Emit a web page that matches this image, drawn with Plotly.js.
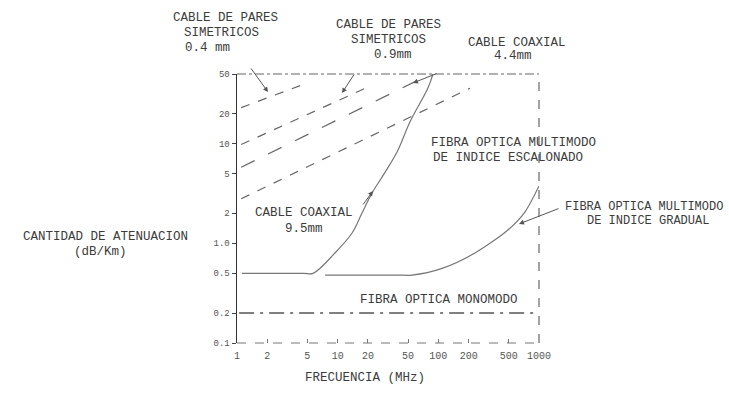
<!DOCTYPE html>
<html>
<head>
<meta charset="utf-8">
<script src="https://cdn.plot.ly/plotly-3.0.1.min.js"></script>
<style>
  html, body { margin: 0; padding: 0; background: #ffffff; }
  #chart { width: 729px; height: 396px; }
</style>
</head>
<body>
<div id="chart"></div>
<script>
// ---- data ----
const freqTicks = [1, 2, 5, 10, 20, 50, 100, 200, 500, 1000];
const freqTickText = ["1", "2", "5", "10", "20", "50", "100", "200", "500", "1000"];
const attTicks = [0.1, 0.2, 0.5, 1, 2, 5, 10, 20, 50];
const attTickText = ["0.1", "0.2", "0.5", "1.0", "2", "5", "10", "20", "50"];

const pares04F = [1.1, 5.1];
const pares04A = [23, 41];
const pares09F = [1.1, 20];
const pares09A = [9.8, 37];
const coax44F = [1.1, 74];
const coax44A = [5.8, 47];
const coax95F = [1.1, 206];
const coax95A = [2.8, 36];
const escalonadoF = [1.12, 4.6, 5.7, 9.4, 13.9, 17.4, 21.9, 29, 39.7, 52.2, 78.8, 88.4];
const escalonadoA = [0.5, 0.5, 0.5, 0.8, 1.27, 2.0, 3.19, 5.0, 8.6, 16.5, 36.1, 50];
const gradualF = [7.5, 40, 54.7, 109, 231, 491, 724, 1000];
const gradualA = [0.48, 0.48, 0.48, 0.56, 0.8, 1.36, 2.06, 3.76];
const monomodoF = [1.05, 1000];
const monomodoA = [0.2, 0.2];

// ---- styling ----
const FONT = "Liberation Mono, DejaVu Sans Mono, monospace";
const TXT = "#3c3c3c";
const LINE = "#666666";

// plot area in pixels (for placing free labels)
const L = 237, R = 539, T = 74, B = 343;
const px = v => (v - L) / (R - L);
const py = v => (B - v) / (B - T);

function seg(x, y, dash, color, width, shape, smooth) {
  return {
    type: "scatter", mode: "lines", x: x, y: y,
    line: { color: color || LINE, width: width || 1.2, dash: dash || "solid",
            shape: shape || "linear", smoothing: smooth || 0.5 },
    hoverinfo: "skip", showlegend: false
  };
}

const traces = [
  seg(pares04F, pares04A, "dash"),
  seg(pares09F, pares09A, "dash"),
  seg(coax44F, coax44A, "longdash"),
  seg(coax95F, coax95A, "dash"),
  seg(escalonadoF, escalonadoA, "solid", "#777777", 1.2, "spline", 1.0),
  seg(gradualF, gradualA, "solid", "#777777", 1.2, "spline", 0.8),
  seg(monomodoF, monomodoA, "longdashdot", "#555555", 1.3)
];

function label(text, x, y, anchor, size) {
  return {
    xref: "paper", yref: "paper", x: px(x), y: py(y),
    xanchor: anchor || "center", yanchor: "middle",
    text: text, showarrow: false,
    font: { family: FONT, size: size || 12.5, color: TXT }
  };
}
function arrow(hx, hy, tx, ty) {
  return {
    xref: "paper", yref: "paper", x: px(hx), y: py(hy),
    ax: tx - hx, ay: ty - hy, axref: "pixel", ayref: "pixel",
    text: "", showarrow: true, arrowhead: 2, arrowsize: 1, arrowwidth: 1,
    arrowcolor: "#555555"
  };
}

const annotations = [
  label("CABLE DE PARES", 225, 18),
  label("SIMETRICOS", 221, 33),
  label("0.4 mm", 207, 48),
  label("CABLE DE PARES", 388, 25),
  label("SIMETRICOS", 388, 40),
  label("0.9mm", 393, 55),
  label("CABLE COAXIAL", 517, 43),
  label("4.4mm", 513, 56),
  label("FIBRA OPTICA MULTIMODO", 513, 143),
  label("DE INDICE ESCALONADO", 508, 158),
  label("CABLE COAXIAL", 304, 213),
  label("9.5mm", 304, 229),
  label("FIBRA OPTICA MULTIMODO", 563, 207, "left", 12),
  label("DE INDICE GRADUAL", 585, 221, "left", 12),
  label("CANTIDAD DE ATENUACION", 105, 237),
  label("(dB/Km)", 100, 252),
  label("FIBRA OPTICA MONOMODO", 439, 300),
  label("FRECUENCIA (MHz)", 365, 378),
  arrow(268, 92, 250, 67),
  arrow(342, 93, 355, 73),
  arrow(413, 83, 438, 73),
  arrow(373, 191, 362, 206),
  arrow(519, 224, 560, 208)
];

const shapes = [
  { type: "line", xref: "paper", yref: "paper", x0: 0, x1: 1, y0: 1, y1: 1,
    line: { color: "#666666", width: 1.2, dash: "dashdot" } },
  { type: "line", xref: "paper", yref: "paper", x0: 1, x1: 1, y0: 0, y1: 1,
    line: { color: "#666666", width: 1.2, dash: "dash" } },
  { type: "line", xref: "paper", yref: "paper", x0: 0, x1: 1, y0: 0, y1: 0,
    line: { color: "#777777", width: 1, dash: "dash" } }
];

const layout = {
  width: 729, height: 396,
  margin: { l: L, r: 729 - R, t: T, b: 396 - B, pad: 0 },
  paper_bgcolor: "#ffffff", plot_bgcolor: "#ffffff",
  showlegend: false,
  xaxis: {
    type: "log", range: [0, 3],
    tickmode: "array", tickvals: freqTicks, ticktext: freqTickText,
    showgrid: false, zeroline: false, showline: false,
    ticks: "inside", ticklen: 4, tickcolor: "#777777",
    ticklabelstandoff: 5,
    tickfont: { family: FONT, size: 10, color: "#555555" }
  },
  yaxis: {
    type: "log", range: [-1, Math.log10(50)],
    tickmode: "array", tickvals: attTicks, ticktext: attTickText,
    showgrid: false, zeroline: false,
    showline: true, linecolor: "#333333", linewidth: 1.5,
    ticks: "outside", ticklen: 4, tickcolor: "#444444",
    tickfont: { family: FONT, size: 9, color: "#555555" }
  },
  annotations: annotations,
  shapes: shapes
};

Plotly.newPlot("chart", traces, layout, { staticPlot: true, displayModeBar: false });
</script>
</body>
</html>
